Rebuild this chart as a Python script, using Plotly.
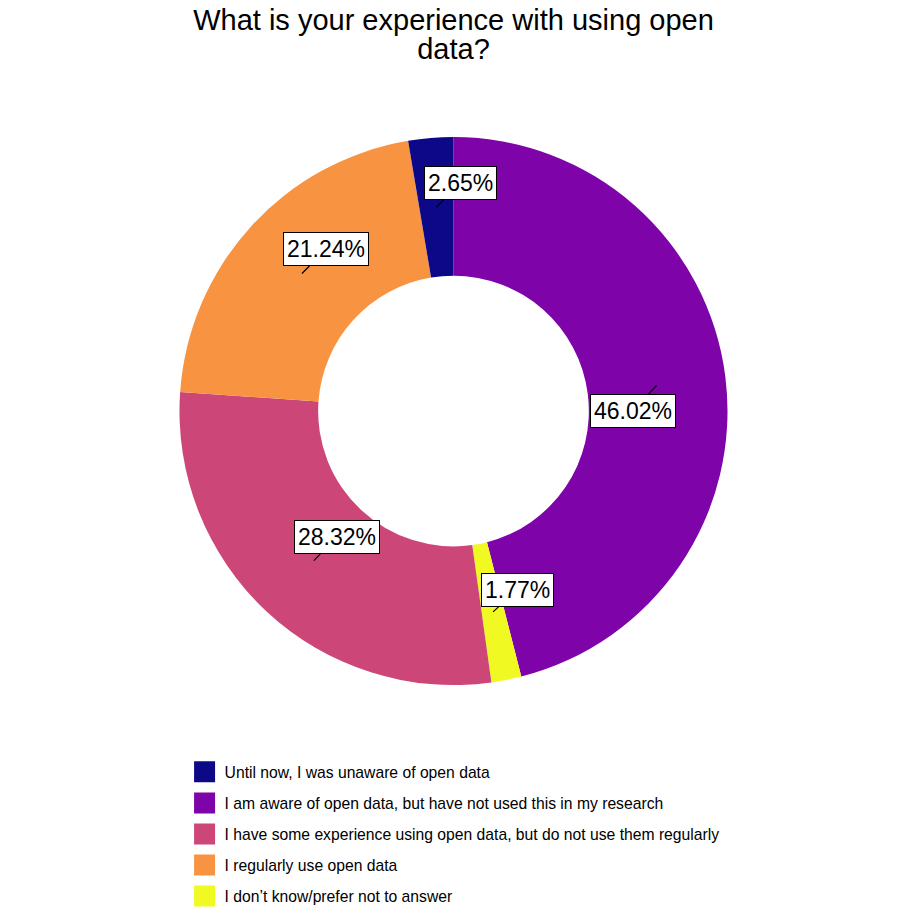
import math
import plotly.graph_objects as go

# ---- data ----
categories = [
    "Until now, I was unaware of open data",
    "I am aware of open data, but have not used this in my research",
    "I have some experience using open data, but do not use them regularly",
    "I regularly use open data",
    "I don\u2019t know/prefer not to answer",
]
percent = [2.65, 46.02, 28.32, 21.24, 1.77]
colors = ["#0D0887", "#7E03A8", "#CC4678", "#F89441", "#F0F921"]
# order of slices clockwise from 12 o'clock (indices into categories)
slice_order = [1, 4, 2, 3, 0]
title_lines = ["What is your experience with using open", "data?"]

# ---- layout constants ----
W = H = 907
dom_x = [0.1979, 0.8021]
dom_y = [0.2447, 0.8489]
hole = 0.494
# label nudges (pixels) per category
nudge = {0: (24, -24), 1: (-24, 25), 2: (23, -24), 3: (24, -24), 4: (24, -22)}

fig = go.Figure()
fig.add_trace(go.Pie(
    labels=[categories[i] for i in slice_order],
    values=[percent[i] for i in slice_order],
    marker=dict(colors=[colors[i] for i in slice_order], line=dict(width=0)),
    sort=False, direction="clockwise", rotation=0, hole=hole,
    textinfo="none", hoverinfo="label+percent", showlegend=False,
    domain=dict(x=dom_x, y=dom_y),
))

for i, (cat, col) in enumerate(zip(categories, colors)):
    fig.add_trace(go.Scatter(
        x=[None], y=[None], mode="markers", name=cat,
        marker=dict(symbol="square", size=16, color=col, line=dict(color=col, width=5)),
        legendgroup=f"g{i}", showlegend=True,
    ))

# annotations: percentage labels at ring middle
cx = (dom_x[0] + dom_x[1]) / 2
cy = (dom_y[0] + dom_y[1]) / 2
R = min((dom_x[1] - dom_x[0]) * W, (dom_y[1] - dom_y[0]) * H) / 2
rmid = R * (1 + hole) / 2
total = sum(percent)
cum = 0.0
annotations = []
for i in slice_order:
    v = percent[i]
    mid = (cum + v / 2) / total * 2 * math.pi
    cum += v
    px = cx + rmid * math.sin(mid) / W
    py = cy + rmid * math.cos(mid) / H
    ax, ay = nudge[i]
    annotations.append(dict(
        x=px, y=py, xref="paper", yref="paper",
        text=f"{v:.2f}%", showarrow=True, arrowhead=0, arrowwidth=1.2,
        arrowcolor="black", ax=ax, ay=ay, standoff=0, startstandoff=0,
        font=dict(family="Liberation Sans", size=23, color="black"),
        bgcolor="white", bordercolor="black", borderwidth=1, borderpad=3,
    ))

title_text = "<br>".join(f'<span style="font-size:29px">{t}</span>' for t in title_lines)

fig.update_layout(
    width=W, height=H,
    margin=dict(l=0, r=0, t=0, b=0, autoexpand=False),
    paper_bgcolor="white", plot_bgcolor="white",
    title=dict(text=title_text,
               x=0.5, xanchor="center", y=0.967, yanchor="top",
               font=dict(family="Liberation Sans", size=22, color="black")),
    xaxis=dict(visible=False), yaxis=dict(visible=False),
    legend=dict(x=0.2035, y=0.1674, xanchor="left", yanchor="top",
                tracegroupgap=7.6, itemsizing="trace",
                font=dict(family="Liberation Sans", size=15.7, color="black"),
                bgcolor="rgba(0,0,0,0)"),
    annotations=annotations,
)

fig.write_html("out.html")
